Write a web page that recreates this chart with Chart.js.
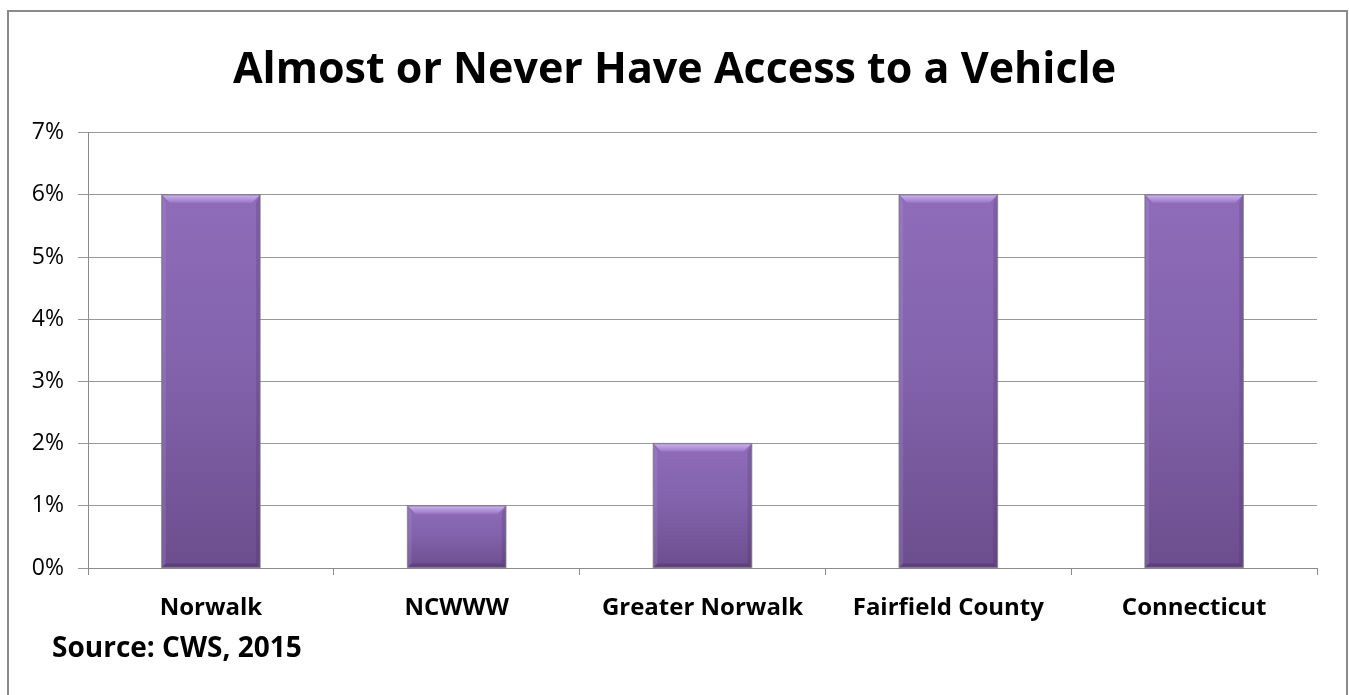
<!DOCTYPE html>
<html>
<head>
<meta charset="utf-8">
<title>Almost or Never Have Access to a Vehicle</title>
<script src="https://cdn.jsdelivr.net/npm/chart.js@4/dist/chart.umd.min.js"></script>
<style>
  html, body { margin: 0; padding: 0; background: #fff; overflow: hidden; }
  #wrap { width: 1349px; height: 695px; position: relative; }
</style>
</head>
<body>
<div id="wrap"><canvas id="bar"></canvas></div>
<script>
// data
const categories = ['Norwalk', 'NCWWW', 'Greater Norwalk', 'Fairfield County', 'Connecticut'];
const values = [6, 1, 2, 6, 6];
const yTicks = [0, 1, 2, 3, 4, 5, 6, 7];
const chartTitle = 'Almost or Never Have Access to a Vehicle';
const sourceNote = 'Source: CWS, 2015';

const FONT = '"Open Sans", Lato, sans-serif';

// bar gradient, one per bar (top light, bottom dark)
function barFill(ctx) {
  const chart = ctx.chart;
  const y = chart.scales.y;
  if (!y || ctx.parsed == null) return '#7f5ea6';
  const top = y.getPixelForValue(ctx.parsed.y);
  const bottom = y.getPixelForValue(0);
  if (!isFinite(top) || !isFinite(bottom) || top === bottom) return '#7f5ea6';
  const g = chart.ctx.createLinearGradient(0, top, 0, bottom);
  g.addColorStop(0, '#8f6cba');
  g.addColorStop(0.5, '#8162aa');
  g.addColorStop(1, '#6c4d8d');
  return g;
}

// outer frame + source line
const framePlugin = {
  id: 'frame',
  afterDraw(chart) {
    const c = chart.ctx;
    c.save();
    c.strokeStyle = '#8a8a8a';
    c.lineWidth = 2;
    c.strokeRect(8, 11, 1339, 720);
    c.fillStyle = '#000';
    c.font = 'bold 28px ' + FONT;
    c.textBaseline = 'alphabetic';
    c.textAlign = 'left';
    c.fillText(sourceNote, 52, 657);
    c.restore();
  }
};

// bevel on the top edge of each bar
const bevelPlugin = {
  id: 'bevel',
  afterDatasetsDraw(chart) {
    const c = chart.ctx;
    const meta = chart.getDatasetMeta(0);
    c.save();
    meta.data.forEach(function(bar) {
      const half = bar.width / 2;
      const l = bar.x - half, r = bar.x + half, t = bar.y, b = bar.base;
      const d = 8;
      // top
      const g = c.createLinearGradient(0, t, 0, t + d);
      g.addColorStop(0, '#d0b2f8');
      g.addColorStop(1, '#9878c4');
      c.fillStyle = g;
      c.beginPath();
      c.moveTo(l, t); c.lineTo(r, t); c.lineTo(r - d, t + d); c.lineTo(l + d, t + d);
      c.closePath(); c.fill();
      // sides
      c.fillStyle = 'rgba(60,30,90,0.18)';
      c.beginPath();
      c.moveTo(r, t); c.lineTo(r, b); c.lineTo(r - 4, b - 4); c.lineTo(r - 4, t + d);
      c.closePath(); c.fill();
      c.fillStyle = 'rgba(190,160,230,0.2)';
      c.beginPath();
      c.moveTo(l, t); c.lineTo(l, b); c.lineTo(l + 4, b - 4); c.lineTo(l + 4, t + d);
      c.closePath(); c.fill();
      // bottom
      c.fillStyle = 'rgba(50,25,80,0.25)';
      c.beginPath();
      c.moveTo(l, b); c.lineTo(r, b); c.lineTo(r - 4, b - 4); c.lineTo(l + 4, b - 4);
      c.closePath(); c.fill();
      // shadow outline
      c.strokeStyle = 'rgba(110,110,110,0.6)';
      c.lineWidth = 1.5;
      c.strokeRect(l, t, bar.width, b - t);
    });
    c.restore();
  }
};

const ctx = document.getElementById('bar').getContext('2d');
new Chart(ctx, {
  type: 'bar',
  data: {
    labels: categories,
    datasets: [{
      data: values,
      backgroundColor: barFill,
      borderWidth: 0,
      categoryPercentage: 1.0,
      barPercentage: 0.4
    }]
  },
  options: {
    responsive: true,
    maintainAspectRatio: false,
    animation: false,
    layout: { padding: 0 },
    plugins: {
      legend: { display: false },
      tooltip: { enabled: false },
      title: {
        display: true,
        text: chartTitle,
        color: '#000',
        font: { family: FONT, size: 43, weight: 'bold', lineHeight: 1.2 },
        padding: { top: 45, bottom: 36 }
      }
    },
    scales: {
      x: {
        grid: {
          offset: true,
          drawOnChartArea: false,
          drawTicks: true,
          tickLength: 7,
          color: '#8c8c8c'
        },
        border: { color: '#8c8c8c', width: 1 },
        ticks: {
          color: '#000',
          padding: 19,
          font: { family: FONT, size: 24, weight: 'bold' }
        },
        afterFit(scale) { scale.height = 127; }
      },
      y: {
        min: 0,
        max: 7,
        afterBuildTicks(scale) { scale.ticks = yTicks.map(v => ({ value: v })); },
        grid: { color: '#999', tickLength: 10 },
        border: { color: '#8c8c8c', width: 1 },
        ticks: {
          color: '#000',
          padding: 14,
          font: { family: FONT, size: 23 },
          callback: v => v + '%'
        },
        afterFit(scale) { scale.width = 88; }
      },
      // empty right margin so the plot ends where the reference does
      yRight: {
        position: 'right',
        grid: { display: false },
        border: { display: false },
        ticks: { display: false },
        afterFit(scale) { scale.width = 32; }
      }
    }
  },
  plugins: [framePlugin, bevelPlugin]
});
</script>
</body>
</html>
